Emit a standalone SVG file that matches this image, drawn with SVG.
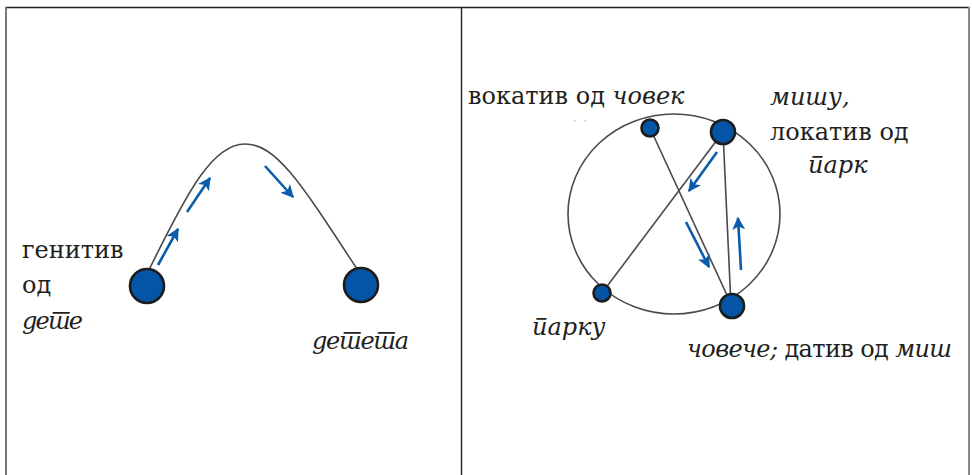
<svg xmlns="http://www.w3.org/2000/svg" width="972" height="475" viewBox="0 0 972 475">
<style>
.t{font-family:"DejaVu Serif",serif;font-size:24px;fill:#231f20}
.i{font-style:italic}
.edge{fill:none;stroke:#4a4a4a;stroke-width:1.6}
.arr{fill:none;stroke:#0b5cab;stroke-width:2.6;marker-end:url(#ah)}
.node{fill:#0455a6;stroke:#1c1c1c;stroke-width:2.6}
</style>
<defs>
<marker id="ah" viewBox="0 0 10 10" refX="9" refY="5" markerWidth="5" markerHeight="5" orient="auto" markerUnits="strokeWidth">
<path d="M0,0 L10,5 L0,10 L2.5,5 Z" fill="#0b5cab"/>
</marker>
</defs>
<rect width="972" height="475" fill="#fff"/>
<g id="frame">
<line x1="5" y1="7.5" x2="970" y2="7.5" stroke="#222" stroke-width="1.6"/>
<line x1="6" y1="7" x2="6" y2="475" stroke="#777" stroke-width="2"/>
<line x1="461.5" y1="7" x2="461.5" y2="475" stroke="#222" stroke-width="1.4"/>
<line x1="969" y1="7" x2="969" y2="475" stroke="#888" stroke-width="2"/>
</g>
<g id="connectors">
<path class="edge" d="M148,272 C188,190 213,144 245,144 C277,144 302,185 359,272"/>
<ellipse class="edge" cx="674" cy="214" rx="106" ry="100"/>
<line class="edge" x1="650" y1="128" x2="732" y2="306"/>
<line class="edge" x1="723" y1="132" x2="602" y2="293"/>
<line class="edge" x1="723" y1="132" x2="731" y2="306" stroke="#777"/>
<line class="arr" x1="158" y1="265" x2="178" y2="229"/>
<line class="arr" x1="187" y1="212" x2="210" y2="178"/>
<line class="arr" x1="265" y1="166" x2="293" y2="197"/>
<line class="arr" x1="717" y1="152" x2="689" y2="191"/>
<line class="arr" x1="686" y1="222" x2="709" y2="267"/>
<line class="arr" x1="741" y1="270" x2="738" y2="218"/>
</g>
<g id="n-genitiv">
<circle class="node" cx="147" cy="286" r="17"/>
<text class="t" x="22" y="258">генитив</text>
<text class="t" x="22" y="293">од</text>
<text class="t i" x="22" y="329" xml:lang="sr" lang="sr" textLength="61">дете</text>
</g>
<g id="n-deteta">
<circle class="node" cx="361" cy="285" r="17"/>
<text class="t i" x="312" y="349" xml:lang="sr" lang="sr" textLength="97">детета</text>
</g>
<g id="n-vokativ">
<circle class="node" cx="650" cy="128" r="8.5"/>
<text class="t" x="468" y="104">вокатив од <tspan class="i">човек</tspan></text>
<circle cx="575" cy="121" r="0.8" fill="#aaa"/>
<circle cx="585" cy="121" r="0.8" fill="#aaa"/>
</g>
<g id="n-mishu">
<circle class="node" cx="723" cy="132" r="12"/>
<text class="t i" x="770" y="105">мишу,</text>
<text class="t" x="770" y="140">локатив од</text>
<text class="t i" x="808" y="173" xml:lang="sr" lang="sr">парк</text>
</g>
<g id="n-parku">
<circle class="node" cx="602" cy="293" r="8.5"/>
<text class="t i" x="532" y="335" xml:lang="sr" lang="sr">парку</text>
</g>
<g id="n-coveche">
<circle class="node" cx="732" cy="306" r="12"/>
<text class="t" x="687" y="357" textLength="265"><tspan class="i">човече;</tspan> датив од <tspan class="i">миш</tspan></text>
</g>
</svg>
